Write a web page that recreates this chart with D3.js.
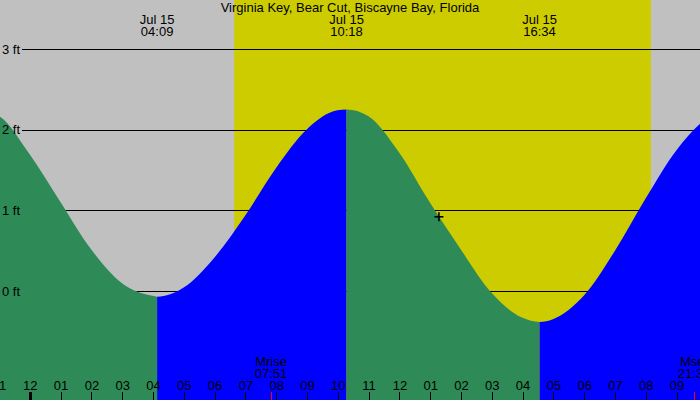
<!DOCTYPE html>
<html>
<head>
<meta charset="utf-8">
<script src="https://cdn.jsdelivr.net/npm/d3@7"></script>
<style>
  html, body { margin: 0; padding: 0; background: #fff; }
  svg { display: block; }
  text { font-family: "Liberation Sans", Arial, sans-serif; font-size: 13px; fill: #000; }
</style>
</head>
<body>
<svg id="chart" width="700" height="400"></svg>
<script>
// ---- data (hours relative to midnight, Jul 15) ----
const title = "Virginia Key, Bear Cut, Biscayne Bay, Florida";

// tide height readings (ft) at times (hours)
const tideTimes = [-1.85, -1, 0, 1, 2, 3, 4, 4.15, 5, 6, 7, 8, 9, 10, 10.3, 11, 12, 13, 14, 15, 16, 16.567, 17, 18, 19, 20, 21, 22, 22.8];
const tideFeet  = [2.25, 2.17, 1.70, 1.11, 0.52, 0.10, -0.06, -0.07, 0.04, 0.41, 0.93, 1.52, 2.00, 2.24, 2.25, 2.17, 1.72, 1.10, 0.52, -0.02, -0.33, -0.385, -0.35, -0.06, 0.49, 1.14, 1.74, 2.14, 2.25];

// high / low extremes (hours) and their labels
const extremeTimes  = [-1.85, 4.15, 10.3, 16.567, 22.8];
const extremeRising = [false, true, false, true];       // segment after each extreme
const labelTimes    = [4.15, 10.3, 16.567];
const labelDates    = ["Jul 15", "Jul 15", "Jul 15"];
const labelClock    = ["04:09", "10:18", "16:34"];

// sun and moon
const sunrise = 6.65;   // 06:39
const sunset  = 20.18;  // 20:11
const moonTimes  = [7.85, 21.583];
const moonNames  = ["Mrise", "Mset"];
const moonClock  = ["07:51", "21:35"];

// current time marker
const nowTime = 13.3, nowFeet = 0.92;

// axes
const hourTicks = d3.range(-1, 23);
const feetTicks = [0, 1, 2, 3];

// ---- drawing ----
const W = 700, H = 400;
const svg = d3.select("#chart");
const x = d3.scaleLinear().domain([0, 24]).range([29.3, 29.3 + 24 * 30.8]);
const y = d3.scaleLinear().domain([0, 3]).range([291, 49]);

// background night / day
svg.append("rect").attr("x", 0).attr("y", 0).attr("width", W).attr("height", H).attr("fill", "#c0c0c0");
svg.append("rect").attr("x", x(sunrise)).attr("y", 0)
  .attr("width", x(sunset) - x(sunrise)).attr("height", H).attr("fill", "#cccc00");

// gridlines
svg.append("g").selectAll("line").data(feetTicks).join("line")
  .attr("x1", 22).attr("x2", W)
  .attr("y1", d => Math.round(y(d)) + 0.5).attr("y2", d => Math.round(y(d)) + 0.5)
  .attr("stroke", "#000").attr("stroke-width", 1).attr("shape-rendering", "crispEdges");

// tide area
const pts = tideTimes.map((t, i) => [t, tideFeet[i]]);
const area = d3.area().x(d => x(d[0])).y0(H).y1(d => y(d[1])).curve(d3.curveMonotoneX);
const defs = svg.append("defs");
const segs = d3.range(extremeTimes.length - 1).map(i => ({ a: extremeTimes[i], b: extremeTimes[i + 1], rising: extremeRising[i], i }));
defs.selectAll("clipPath").data(segs).join("clipPath")
  .attr("id", d => "seg" + d.i)
  .append("rect")
  .attr("x", d => x(d.a)).attr("y", 0)
  .attr("width", d => x(d.b) - x(d.a)).attr("height", H);
svg.append("g").selectAll("path").data(segs).join("path")
  .attr("d", area(pts))
  .attr("clip-path", d => "url(#seg" + d.i + ")")
  .attr("fill", d => d.rising ? "#0000ff" : "#2e8b57");

// y labels (on top of the water)
svg.append("g").selectAll("text").data(feetTicks).join("text")
  .attr("x", 2).attr("y", d => y(d) + 4.7)
  .text(d => d + " ft");

// current time cross
const cx = x(nowTime), cy = y(nowFeet);
svg.append("line").attr("x1", cx - 4.5).attr("x2", cx + 4.5).attr("y1", cy).attr("y2", cy)
  .attr("stroke", "#000").attr("stroke-width", 1.6);
svg.append("line").attr("x1", cx).attr("x2", cx).attr("y1", cy - 4.5).attr("y2", cy + 4.5)
  .attr("stroke", "#000").attr("stroke-width", 1.6);

// title and extreme labels
svg.append("text").attr("x", W / 2).attr("y", 12).attr("text-anchor", "middle").text(title);
const lab = svg.append("g").selectAll("g").data(labelTimes).join("g");
lab.append("text").attr("x", d => x(d)).attr("y", 24).attr("text-anchor", "middle")
  .text((d, i) => labelDates[i]);
lab.append("text").attr("x", d => x(d)).attr("y", 36.3).attr("text-anchor", "middle")
  .text((d, i) => labelClock[i]);

// hour axis
const fmtHour = h => { const m = ((h % 12) + 12) % 12; return m === 0 ? "12" : String(m).padStart(2, "0"); };
const axis = d3.axisTop(x).tickValues(hourTicks).tickFormat(fmtHour).tickSizeInner(8).tickSizeOuter(0).tickPadding(2);
const gAxis = svg.append("g").attr("transform", `translate(0.5,${H})`).call(axis);
gAxis.select(".domain").remove();
gAxis.selectAll("line").attr("stroke", "#000").attr("shape-rendering", "crispEdges")
  .attr("stroke-width", d => (((d % 24) + 24) % 24 === 0) ? 3 : 1);
gAxis.selectAll("text").attr("font-family", "Liberation Sans, Arial, sans-serif").attr("font-size", 13).attr("fill", "#000");

// moon rise / set
const moon = svg.append("g").selectAll("g").data(moonTimes).join("g");
moon.append("line").attr("x1", d => Math.round(x(d)) + 0.5).attr("x2", d => Math.round(x(d)) + 0.5)
  .attr("y1", 392).attr("y2", H).attr("stroke", "#ff0000").attr("stroke-width", 1).attr("shape-rendering", "crispEdges");
moon.append("text").attr("x", d => x(d)).attr("y", 366.3).attr("text-anchor", "middle").text((d, i) => moonNames[i]);
moon.append("text").attr("x", d => x(d)).attr("y", 378).attr("text-anchor", "middle").text((d, i) => moonClock[i]);
</script>
</body>
</html>
